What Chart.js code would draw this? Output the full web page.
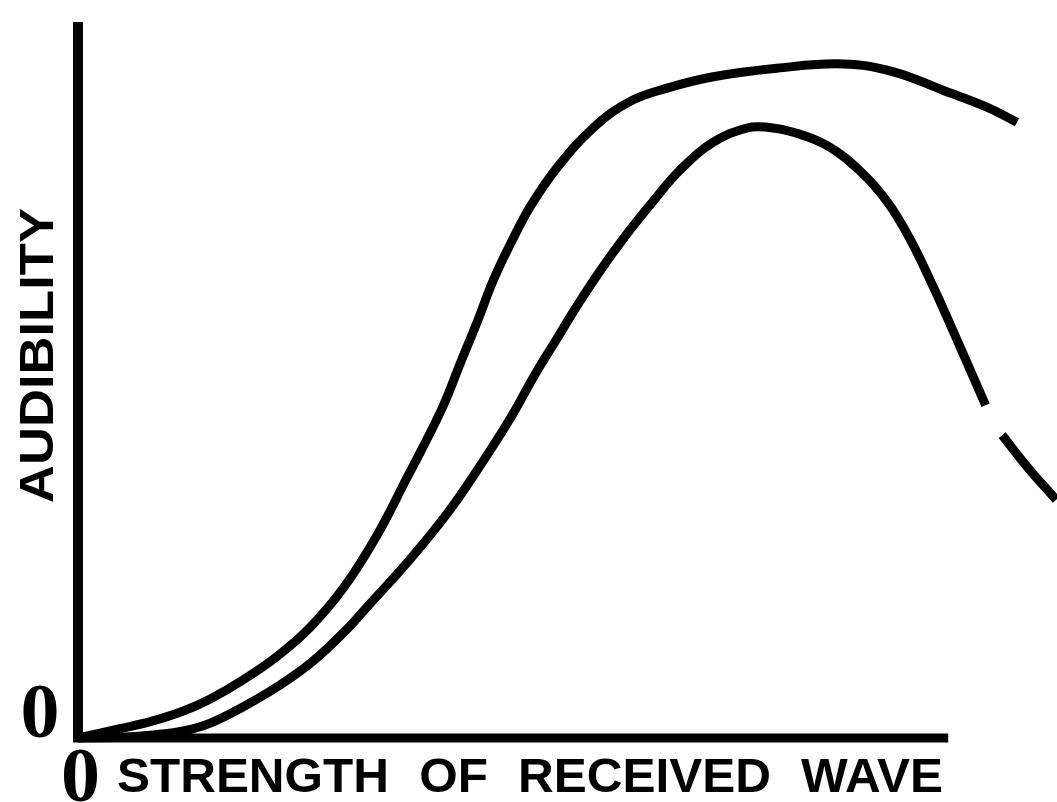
<!DOCTYPE html>
<html>
<head>
<meta charset="utf-8">
<script src="https://cdn.jsdelivr.net/npm/chart.js@4.4.1/dist/chart.umd.min.js"></script>
<style>
  html, body { margin: 0; padding: 0; background: #ffffff; }
  #wrap { width: 1057px; height: 802px; position: relative; }
</style>
</head>
<body>
<div id="wrap"><canvas id="c" width="1057" height="802"></canvas></div>
<script>
// Strength of received wave (arbitrary units; the drawn axis runs 0..10)
const upperX = [0, 0.48, 0.83, 1.21, 1.52, 1.90, 2.29, 2.67, 3.05, 3.44, 3.78, 3.93, 4.20, 4.39, 4.59, 4.77, 4.97, 5.20, 5.51, 5.92, 6.34, 6.77, 7.30, 8.03, 8.79, 9.37, 9.94, 10.45, 10.79];
const upperY = [0.0, 0.13, 0.23, 0.38, 0.55, 0.82, 1.15, 1.56, 2.11, 2.86, 3.66, 4.01, 4.68, 5.26, 5.86, 6.43, 6.95, 7.48, 8.03, 8.58, 8.95, 9.14, 9.30, 9.42, 9.48, 9.37, 9.11, 8.87, 8.66];

const lowerX = [0, 0.48, 0.83, 1.21, 1.52, 1.90, 2.29, 2.67, 3.05, 3.32, 3.82, 4.28, 4.68, 4.97, 5.25, 5.52, 5.71, 6.00, 6.34, 6.61, 6.92, 7.30, 7.69, 7.92, 8.22, 8.61, 8.99, 9.30, 9.56, 9.83, 10.14, 10.43, 10.52, 10.62, 10.91, 11.24];
const lowerY = [0.0, 0.01, 0.04, 0.10, 0.21, 0.44, 0.72, 1.05, 1.48, 1.84, 2.52, 3.22, 3.94, 4.50, 5.11, 5.65, 6.03, 6.57, 7.14, 7.55, 7.99, 8.38, 8.58, 8.59, 8.52, 8.33, 7.97, 7.54, 7.02, 6.34, 5.49, 4.68, null, 4.26, 3.81, 3.35];

// Axis labels
const xZeroLabel = "0";
const yZeroLabel = "0";
const xTitle = "STRENGTH OF RECEIVED WAVE";
const yTitle = "AUDIBILITY";

const X_AXIS_END = 10;    // the horizontal axis line stops here
const X_VIEW_MAX = 11.25; // curves continue past the axis end

const toPoints = (xs, ys) => xs.map((x, i) => ({ x: x, y: ys[i] }));

const INK = "#000000";

// Horizontal axis line (shorter than the plotting area) and axis captions
const axisDecor = {
  id: "axisDecor",
  beforeDatasetsDraw(chart) {
    const ctx = chart.ctx;
    const xs = chart.scales.x, ys = chart.scales.y;
    const x0 = xs.getPixelForValue(0);
    const x1 = xs.getPixelForValue(X_AXIS_END);
    const y0 = ys.getPixelForValue(0);
    ctx.save();
    ctx.strokeStyle = INK;
    ctx.lineWidth = 9;
    ctx.lineCap = "butt";
    ctx.beginPath();
    ctx.moveTo(x0 - 5, y0);
    ctx.lineTo(x1, y0);
    ctx.stroke();
    ctx.restore();
  },
  afterDraw(chart) {
    const ctx = chart.ctx;
    const xs = chart.scales.x, ys = chart.scales.y;
    const x0 = xs.getPixelForValue(0);
    const y0 = ys.getPixelForValue(0);
    ctx.save();
    ctx.fillStyle = INK;
    ctx.textBaseline = "alphabetic";

    // zero marks
    ctx.font = 'bold 78px "Liberation Serif"';
    ctx.textAlign = "center";
    ctx.fillText(yZeroLabel, x0 - 38, y0 - 1);
    ctx.fillText(xZeroLabel, x0 + 2.5, y0 + 63);

    // horizontal caption
    ctx.font = 'bold 48px "Liberation Sans"';
    ctx.textAlign = "left";
    ctx.wordSpacing = "16px";
    const wX = ctx.measureText(xTitle).width;
    const targetX = 826;
    ctx.save();
    ctx.translate(x0 + 39, y0 + 54);
    ctx.scale(targetX / wX, 1);
    ctx.fillText(xTitle, 0, 0);
    ctx.restore();
    ctx.wordSpacing = "0px";

    // vertical caption
    const wY = ctx.measureText(yTitle).width;
    const targetY = 295;
    ctx.save();
    ctx.translate(x0 - 25, 503);
    ctx.rotate(-Math.PI / 2);
    ctx.scale(targetY / wY, 1);
    ctx.fillText(yTitle, 0, 0);
    ctx.restore();

    ctx.restore();
  }
};

const lineStyle = {
  borderColor: INK,
  borderWidth: 9,
  pointRadius: 0,
  fill: false,
  clip: false,
  tension: 0.4,
  spanGaps: false
};

new Chart(document.getElementById("c"), {
  type: "line",
  data: {
    datasets: [
      Object.assign({ label: "upper", data: toPoints(upperX, upperY) }, lineStyle),
      Object.assign({ label: "lower", data: toPoints(lowerX, lowerY) }, lineStyle)
    ]
  },
  options: {
    responsive: false,
    animation: false,
    events: [],
    layout: { padding: { left: 78, right: 0, top: 27, bottom: 64 } },
    plugins: { legend: { display: false }, tooltip: { enabled: false }, title: { display: false } },
    scales: {
      x: {
        type: "linear",
        min: 0,
        max: X_VIEW_MAX,
        grid: { display: false, drawTicks: false },
        ticks: { display: false },
        border: { display: false },
        afterFit(s) { s.height = 0; }
      },
      y: {
        type: "linear",
        min: 0,
        max: 10,
        grid: { display: false, drawTicks: false },
        ticks: { display: false },
        border: { display: true, color: INK, width: 10 },
        afterFit(s) { s.width = 0; }
      }
    }
  },
  plugins: [axisDecor]
});
</script>
</body>
</html>
